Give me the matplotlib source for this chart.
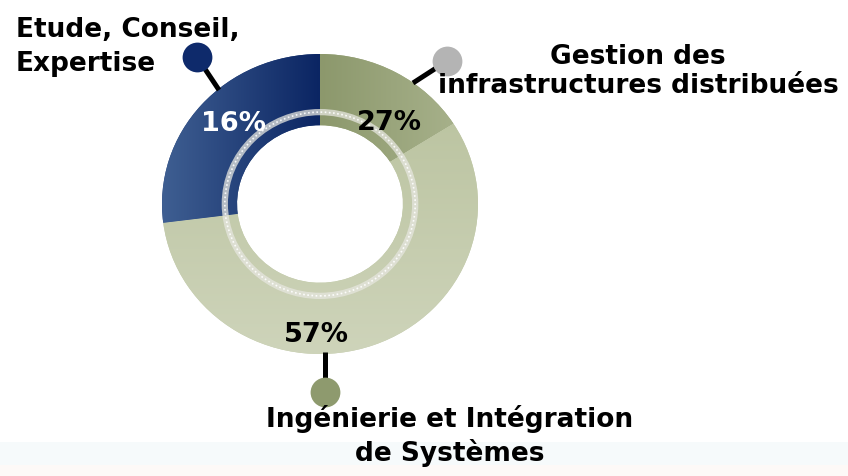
import numpy as np
import matplotlib
matplotlib.use('Agg')
import matplotlib.pyplot as plt
from matplotlib.colors import LinearSegmentedColormap
from matplotlib.patches import Ellipse

# --- data (ordre: sens horaire depuis le haut) ---
categories = ['Gestion des\ninfrastructures distribuées',
              'Ingénierie et Intégration\nde Systèmes',
              'Etude, Conseil,\nExpertise']
shares = [16, 57, 27]            # taille des arcs telle que dessinée
pct_labels = ['27%', '57%', '16%']  # textes affichés sur l'anneau
dot_colors = ['#b4b4b4', '#8e9a6e', '#0e2a6b']

plt.rcParams['font.family'] = ['DejaVu Sans']

W, H = 848, 477
fig = plt.figure(figsize=(W / 100, H / 100), dpi=100)
fig.patch.set_facecolor('white')

# axe du donut (pixels: centre 320,205 ; rayons 158 x 150)
cx, cy, rx, ry = 320, 205, 158, 150
pax = fig.add_axes([(cx - rx) / W, (H - cy - ry) / H, 2 * rx / W, 2 * ry / H])
wedges, _ = pax.pie(shares, startangle=90, counterclock=False, radius=1,
                    colors=['#9aa57b', '#c3cbab', '#25427a'],
                    wedgeprops=dict(width=0.475, linewidth=0))
pax.set_aspect('auto')
pax.axis('off')

# dégradés pour chaque secteur
grads = [
    ('h', '#8c986c', '#a8b28c', (0, 0.9)),
    ('v', '#ced4ba', '#b7c09b', (-1, 1)),
    ('h', '#3f5f92', '#0b2563', (-1, 0)),
]
for w, (d, c0, c1, rng) in zip(wedges, grads):
    cmap = LinearSegmentedColormap.from_list('g', [c0, c1])
    g = np.linspace(0, 1, 256)
    if d == 'h':
        img = g[None, :]
        ext = (rng[0], rng[1], -1, 1)
    else:
        img = g[:, None]
        ext = (-1, 1, rng[0], rng[1])
    im = pax.imshow(img, cmap=cmap, extent=ext, origin='lower',
                    aspect='auto', zorder=2, interpolation='bilinear')
    im.set_clip_path(w)
pax.set_xlim(-1, 1)
pax.set_ylim(-1, 1)

# anneau intérieur pâle
pax.add_patch(Ellipse((0, 0), 1.205, 1.225, fill=False, ec='#e6e6df',
                      lw=4.5, alpha=0.75, zorder=3))
pax.add_patch(Ellipse((0, 0), 1.205, 1.225, fill=False, ec='white',
                      lw=1.2, ls=(0, (1, 1.5)), alpha=0.9, zorder=3))

# axe de superposition en coordonnées pixels
ax = fig.add_axes([0, 0, 1, 1])
ax.set_xlim(0, W)
ax.set_ylim(H, 0)
ax.axis('off')
ax.patch.set_alpha(0)

# bande pâle en bas
ax.axhspan(443, 466, color='#f6fafb', zorder=0, lw=0)
ax.axhspan(466, 477, color='#fdf9f7', zorder=0, lw=0)

# traits et pastilles
lines = [((447, 62), (413, 84)), ((325, 393), (325, 353)), ((197, 58), (219, 91))]
for (p0, p1), col in zip(lines, dot_colors):
    ax.plot([p0[0], p1[0]], [p0[1], p1[1]], color='black', lw=3.6,
            solid_capstyle='butt', zorder=4)
    ax.scatter([p0[0]], [p0[1]], s=460, color=col, zorder=5, linewidths=0)

# libellés des catégories
cat_pos = [
    (638, [64, 93], 'center'),
    (450, [427, 461], 'center'),
    (16, [37, 71], 'left'),
]
for text, (x, ys, ha) in zip(categories, cat_pos):
    for line, y in zip(text.split('\n'), ys):
        ax.text(x, y, line, ha=ha, va='baseline', fontsize=19,
                fontweight='bold', color='black', zorder=6)

# pourcentages
pct_pos = [(389, 130, 'black'), (316, 342, 'black'), (233, 131, 'white')]
for lab, (x, y, c) in zip(pct_labels, pct_pos):
    ax.text(x, y, lab, ha='center', va='baseline', fontsize=19.5,
            fontweight='bold', color=c, zorder=6)

fig.savefig('out.png', dpi=100)
